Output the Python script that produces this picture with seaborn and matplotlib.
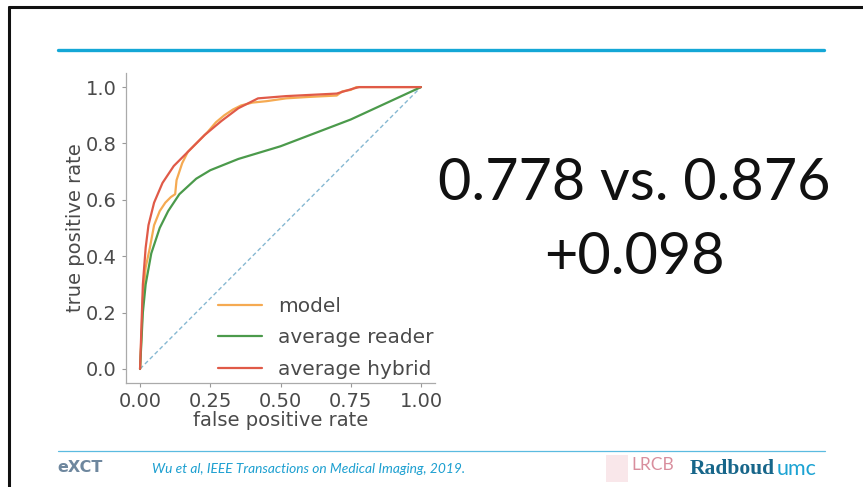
import matplotlib
matplotlib.use("Agg")
import matplotlib.pyplot as plt
from matplotlib.lines import Line2D
from matplotlib.patches import Rectangle
import pandas as pd
import seaborn as sns

# ROC curve samples (false positive rate, true positive rate)
model_fpr = [0, 0.005, 0.01, 0.02, 0.035, 0.05, 0.07, 0.09, 0.11, 0.125, 0.13, 0.15, 0.17,
             0.20, 0.24, 0.27, 0.30, 0.33, 0.36, 0.40, 0.45, 0.52, 0.60, 0.70, 0.72, 0.75, 0.77, 1.0]
model_tpr = [0, 0.12, 0.25, 0.36, 0.43, 0.51, 0.56, 0.59, 0.61, 0.62, 0.67, 0.73, 0.77,
             0.80, 0.84, 0.875, 0.90, 0.92, 0.935, 0.945, 0.95, 0.96, 0.965, 0.97, 0.985, 0.99, 1.0, 1.0]

reader_fpr = [0, 0.01, 0.02, 0.04, 0.07, 0.10, 0.14, 0.20, 0.25, 0.35, 0.50, 0.75, 1.0]
reader_tpr = [0, 0.20, 0.30, 0.41, 0.50, 0.56, 0.62, 0.675, 0.705, 0.745, 0.79, 0.885, 1.0]

hybrid_fpr = [0, 0.005, 0.01, 0.02, 0.03, 0.05, 0.08, 0.12, 0.17, 0.23, 0.29, 0.35, 0.42,
              0.52, 0.70, 0.76, 0.78, 1.0]
hybrid_tpr = [0, 0.15, 0.30, 0.43, 0.51, 0.59, 0.66, 0.72, 0.77, 0.83, 0.88, 0.925, 0.96,
              0.968, 0.977, 0.995, 1.0, 1.0]

chance_fpr = [0, 1]
chance_tpr = [0, 1]

series_names = ["model", "average reader", "average hybrid"]
series_colors = ["#f5aa52", "#4b9a4b", "#e05a48"]

x_ticks = [0.0, 0.25, 0.5, 0.75, 1.0]
x_tick_labels = ["0.00", "0.25", "0.50", "0.75", "1.00"]
y_ticks = [0.0, 0.2, 0.4, 0.6, 0.8, 1.0]
y_tick_labels = ["0.0", "0.2", "0.4", "0.6", "0.8", "1.0"]

headline = "0.778 vs. 0.876"
delta_text = "+0.098"
citation = "Wu et al, IEEE Transactions on Medical Imaging, 2019."

frames = []
for name, fx, ty in [(series_names[0], model_fpr, model_tpr),
                     (series_names[1], reader_fpr, reader_tpr),
                     (series_names[2], hybrid_fpr, hybrid_tpr)]:
    frames.append(pd.DataFrame({"fpr": fx, "tpr": ty, "curve": name}))
roc = pd.concat(frames, ignore_index=True)

sns.set_theme(style="ticks")
plt.rcParams["font.family"] = ["DejaVu Sans"]

fig = plt.figure(figsize=(8.63, 4.87), dpi=100)
fig.patch.set_facecolor("white")
W, H = 863, 487

def fx_(px):
    return px / W

def fy_(py):
    return 1 - py / H

ax = fig.add_axes([fx_(126), fy_(383), fx_(435) - fx_(126), fy_(73) - fy_(383)])
ax.set_facecolor("white")

ax.plot(chance_fpr, chance_tpr, linestyle=(0, (3, 2)), color="#86b8d2", lw=1.0, zorder=1)
sns.lineplot(data=roc, x="fpr", y="tpr", hue="curve", hue_order=series_names,
             palette=series_colors, sort=False, estimator=None, units="curve",
             lw=1.6, ax=ax, legend=True)
ax.set_xlim(-0.05, 1.05)
ax.set_ylim(-0.05, 1.05)
ax.set_xticks(x_ticks)
ax.set_xticklabels(x_tick_labels)
ax.set_yticks(y_ticks)
ax.set_yticklabels(y_tick_labels)
text_color = "#4a4a4a"
ax.tick_params(labelsize=14, colors="#999999", labelcolor=text_color, length=3, width=0.8)
ax.set_xlabel("false positive rate", fontsize=14, color=text_color, labelpad=0)
ax.set_ylabel("true positive rate", fontsize=14, color=text_color, labelpad=1)
for side in ["left", "bottom"]:
    ax.spines[side].set_color("#aaaaaa")
    ax.spines[side].set_linewidth(0.9)
sns.despine(ax=ax)

handles, labels = ax.get_legend_handles_labels()
leg = ax.legend(handles, labels, loc="lower right", bbox_to_anchor=(1.055, -0.045),
                frameon=False, fontsize=14.5, handlelength=2.2, handletextpad=0.8,
                labelspacing=0.62)
for t in leg.get_texts():
    t.set_color(text_color)

# Slide frame and rules
fig.add_artist(Line2D([fx_(9), 1.0], [fy_(7), fy_(7)], color="#111111", lw=2.2))
fig.add_artist(Line2D([fx_(9), fx_(9)], [fy_(7), 0.0], color="#111111", lw=2.2))
fig.add_artist(Line2D([fx_(58), fx_(824)], [fy_(50), fy_(50)], color="#14a7d6", lw=2.4))
fig.add_artist(Line2D([fx_(58), fx_(825)], [fy_(451), fy_(451)], color="#5bbbe0", lw=0.9))

# Headline results
fig.text(fx_(634), fy_(183), headline, fontsize=41.5, family="Lato",
         color="#111111", ha="center", va="center")
fig.text(fx_(634), fy_(257), delta_text, fontsize=41.5, family="Lato",
         color="#111111", ha="center", va="center")

# Footer
fig.text(fx_(152), fy_(469), citation, fontsize=9.9, family="Lato", style="italic",
         color="#1c9fd0", ha="left", va="center")
fig.text(fx_(57), fy_(467), "eXCT", fontsize=11.5, weight="bold", family="DejaVu Sans",
         color="#3d5f7e", ha="left", va="center", alpha=0.75)
fig.add_artist(Rectangle((fx_(606), fy_(482)), fx_(22), fy_(455) - fy_(482),
                         transform=fig.transFigure, facecolor="#f2c4cc", edgecolor="none",
                         alpha=0.4))
fig.text(fx_(631), fy_(465), "LRCB", fontsize=12.5, family="Lato", color="#d27a8c",
         ha="left", va="center", alpha=0.85)
fig.text(fx_(690), fy_(469), "Radboud", fontsize=15.5, family="Liberation Serif", weight="bold",
         color="#17668a", ha="left", va="center")
fig.text(fx_(777), fy_(469), "umc", fontsize=15.5, family="Lato", color="#1ca3d3",
         ha="left", va="center")

fig.savefig("out.png", dpi=100, facecolor="white")
